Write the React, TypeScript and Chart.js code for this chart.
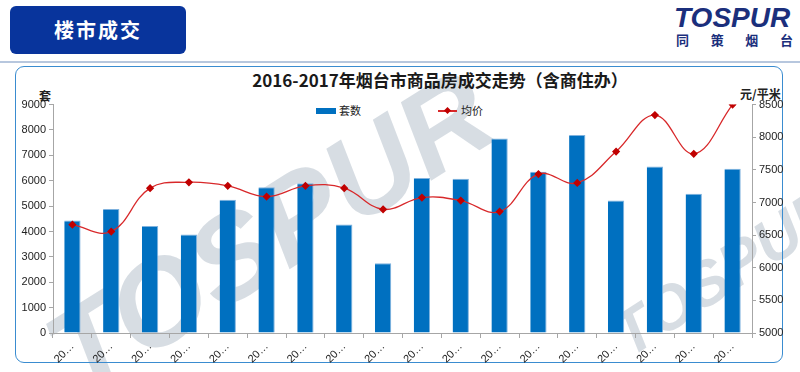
import React, { useEffect, useRef } from "react";
import { Chart, registerables } from "chart.js";

Chart.register(...registerables);

const categories = [
  "2016-01", "2016-02", "2016-03", "2016-04", "2016-05", "2016-06",
  "2016-07", "2016-08", "2016-09", "2016-10", "2016-11", "2016-12",
  "2017-01", "2017-02", "2017-03", "2017-04", "2017-05", "2017-06",
];
const units = [4430, 4890, 4220, 3880, 5250, 5740, 5900, 4280, 2750, 6110, 6080, 7660, 6350, 7800, 5220, 6560, 5490, 6470];
const avgPrice = [6660, 6555, 7220, 7310, 7255, 7090, 7255, 7220, 6895, 7075, 7030, 6860, 7435, 7300, 7780, 8340, 7745, 8500];
const leftTicks = { min: 0, max: 9000, step: 1000 };
const rightTicks = { min: 5000, max: 8500, step: 500 };

const NUM_FONT = "'Liberation Sans', 'Noto Sans', sans-serif";
const CJK_FONT = "'Noto Sans CJK SC', 'Noto Sans', sans-serif";

export default function App() {
  const ref = useRef<HTMLCanvasElement | null>(null);

  useEffect(() => {
    document.body.style.margin = "0";
    const canvas = ref.current;
    if (!canvas) return;
    const chart = new Chart(canvas, {
      type: "bar",
      data: {
        labels: categories,
        datasets: [
          {
            type: "line",
            label: "均价",
            data: avgPrice,
            yAxisID: "y1",
            borderColor: "#D8282A",
            borderWidth: 1.3,
            backgroundColor: "#C00000",
            pointStyle: "rectRot",
            pointRadius: 3.2,
            pointBackgroundColor: "#C00000",
            pointBorderColor: "#C00000",
            tension: 0.4,
            fill: false,
            order: 0,
          } as any,
          {
            type: "bar",
            label: "套数",
            data: units,
            yAxisID: "y",
            backgroundColor: "#0070C0",
            borderColor: "#7FB2DE",
            borderWidth: { top: 1, right: 1, left: 0, bottom: 0 },
            categoryPercentage: 1,
            barPercentage: 0.42,
            order: 1,
          } as any,
        ],
      },
      options: {
        responsive: false,
        animation: false,
        devicePixelRatio: 1,
        layout: { padding: { top: 9, left: 0, right: 0, bottom: 0 } },
        plugins: {
          legend: { display: false },
          tooltip: { enabled: false },
          title: { display: false },
        },
        scales: {
          x: {
            grid: {
              display: true,
              offset: true,
              drawOnChartArea: false,
              drawTicks: true,
              tickLength: 5,
              color: "#A6A6A6",
            },
            border: { color: "#A6A6A6", width: 1 },
            ticks: {
              minRotation: 45,
              maxRotation: 45,
              autoSkip: false,
              padding: 2,
              color: "#222",
              font: { family: NUM_FONT, size: 11 },
              callback: () => "20…",
            },
            afterFit: (s: any) => {
              s.height = 39;
            },
          },
          y: {
            position: "left",
            min: leftTicks.min,
            max: leftTicks.max,
            grid: {
              display: true,
              drawOnChartArea: false,
              drawTicks: true,
              tickLength: 4,
              color: "#A6A6A6",
            },
            border: { color: "#A6A6A6", width: 1 },
            ticks: {
              stepSize: leftTicks.step,
              padding: 3,
              color: "#222",
              font: { family: NUM_FONT, size: 11 },
              callback: (v: any) => String(v),
            },
            afterFit: (s: any) => {
              s.width = 53;
            },
          },
          y1: {
            position: "right",
            min: rightTicks.min,
            max: rightTicks.max,
            grid: {
              display: true,
              drawOnChartArea: false,
              drawTicks: true,
              tickLength: 4,
              color: "#A6A6A6",
            },
            border: { color: "#A6A6A6", width: 1 },
            ticks: {
              stepSize: rightTicks.step,
              padding: 3,
              color: "#222",
              font: { family: NUM_FONT, size: 11 },
              callback: (v: any) => String(v),
            },
            afterFit: (s: any) => {
              s.width = 48;
            },
          },
        },
      },
    });
    return () => chart.destroy();
  }, []);

  const wm: React.CSSProperties = {
    position: "absolute",
    fontFamily: "'Liberation Sans', sans-serif",
    fontWeight: 900,
    fontStyle: "italic",
    color: "rgba(175,188,200,0.5)",
    transformOrigin: "left bottom",
    whiteSpace: "nowrap",
  };

  return (
    <div style={{ position: "relative", width: 800, height: 372, overflow: "hidden", background: "#fff", fontFamily: CJK_FONT }}>
      {/* watermark */}
      <div style={{ ...wm, left: 90, top: 295, fontSize: 120, lineHeight: "120px", transform: "rotate(-32deg)" }}>TOSPUR</div>
      <div style={{ ...wm, left: 635, top: 305, fontSize: 62, lineHeight: "62px", transform: "rotate(-33deg)" }}>TOSPUR</div>

      {/* header box */}
      <div
        style={{
          position: "absolute",
          left: 10,
          top: 6,
          width: 176,
          height: 48,
          background: "#08349C",
          borderRadius: 6,
          color: "#fff",
          fontWeight: 700,
          fontSize: 20,
          lineHeight: "48px",
          textAlign: "center",
          letterSpacing: 2,
        }}
      >
        楼市成交
      </div>

      {/* logo */}
      <div
        style={{
          position: "absolute",
          left: 674,
          top: 3,
          fontFamily: "'Liberation Sans', sans-serif",
          fontWeight: 900,
          fontStyle: "italic",
          fontSize: 28,
          lineHeight: "30px",
          color: "#1B2F7C",
          whiteSpace: "nowrap",
        }}
      >
        TOSPUR
      </div>
      <div
        style={{
          position: "absolute",
          left: 676,
          top: 32,
          width: 117,
          display: "flex",
          justifyContent: "space-between",
          fontWeight: 700,
          fontSize: 13,
          lineHeight: "16px",
          color: "#1B2F7C",
        }}
      >
        <span>同</span>
        <span>策</span>
        <span>烟</span>
        <span>台</span>
      </div>

      {/* separator line */}
      <div style={{ position: "absolute", left: 0, top: 61, width: 800, height: 2, background: "#B7C7DE" }} />

      {/* frame */}
      <div
        style={{
          position: "absolute",
          left: 15,
          top: 66,
          width: 768,
          height: 297,
          border: "1.5px solid #3A8CD0",
          borderRadius: 9,
          boxSizing: "border-box",
        }}
      />

      {/* title */}
      <div
        style={{
          position: "absolute",
          left: 0,
          width: 880,
          top: 69,
          textAlign: "center",
          fontWeight: 700,
          fontSize: 17,
          lineHeight: "22px",
          color: "#1a1a1a",
          whiteSpace: "nowrap",
        }}
      >
        2016-2017年烟台市商品房成交走势（含商住办）
      </div>

      {/* legend */}
      <div style={{ position: "absolute", left: 316, top: 108, width: 20, height: 6, background: "#0070C0" }} />
      <div style={{ position: "absolute", left: 339, top: 103, fontSize: 11, lineHeight: "15px", color: "#222" }}>套数</div>
      <div style={{ position: "absolute", left: 438, top: 110, width: 19, height: 1.5, background: "#D8282A" }} />
      <div
        style={{
          position: "absolute",
          left: 444.5,
          top: 107.5,
          width: 5,
          height: 5,
          background: "#C00000",
          transform: "rotate(45deg)",
        }}
      />
      <div style={{ position: "absolute", left: 461, top: 103, fontSize: 11, lineHeight: "15px", color: "#222" }}>均价</div>

      {/* axis titles */}
      <div style={{ position: "absolute", left: 39, top: 89, fontSize: 12, fontWeight: 700, lineHeight: "14px", color: "#222" }}>套</div>
      <div style={{ position: "absolute", left: 740, top: 87, fontSize: 12, fontWeight: 700, lineHeight: "14px", color: "#222" }}>元/平米</div>

      <canvas ref={ref} width={800} height={277} style={{ position: "absolute", left: 0, top: 95, width: 800, height: 277 }} />
    </div>
  );
}
